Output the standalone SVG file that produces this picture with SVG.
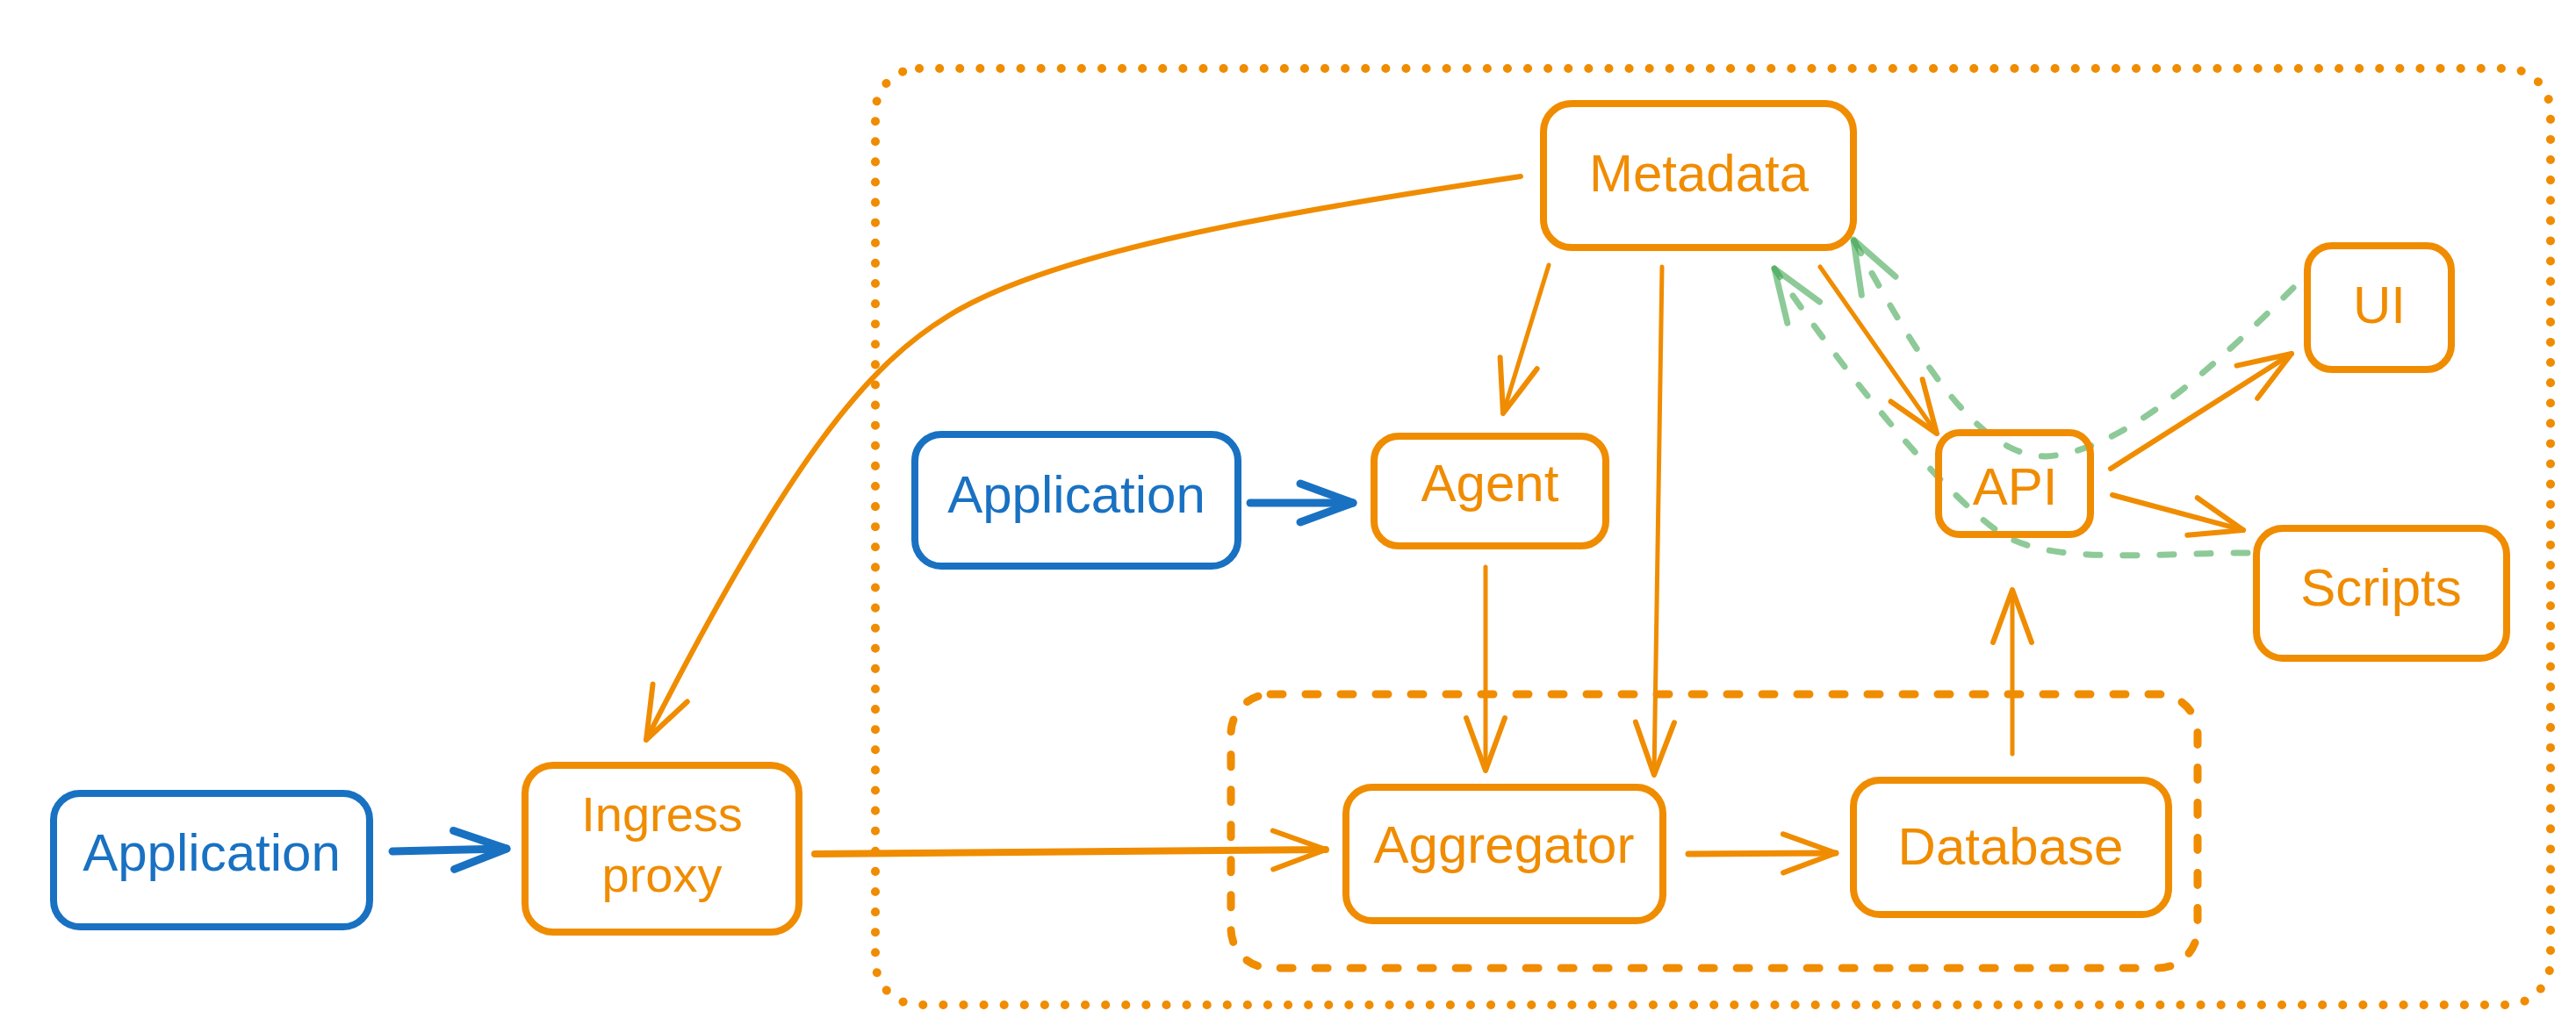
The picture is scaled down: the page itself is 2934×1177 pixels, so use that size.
<svg xmlns="http://www.w3.org/2000/svg" width="2934" height="1177" viewBox="0 0 2934 1177">
<style>
.bg{fill:#ffffff}
.box{fill:none;stroke-width:8;stroke-linejoin:round}
.o{stroke:#f08c00}
.b{stroke:#1971c2}
.t{font-family:"Liberation Sans",Arial,sans-serif;font-size:60px;text-anchor:middle}
.t2{font-size:56px}
.to{fill:#f08c00}
.tb{fill:#1971c2}
.ln{fill:none;stroke-linecap:round;stroke-linejoin:round}
.lo{stroke:#f08c00}
.lb{stroke:#1971c2;stroke-width:9}
.lg{stroke:#2f9e44;stroke-opacity:0.55;stroke-width:7;stroke-dasharray:16 26}
.dotted{fill:none;stroke:#f08c00;stroke-width:10;stroke-linecap:round;stroke-dasharray:0.1 23}
.dashed{fill:none;stroke:#f08c00;stroke-width:9;stroke-linecap:round;stroke-dasharray:14 26}
</style>
<defs>
<marker id="ao" markerUnits="userSpaceOnUse" viewBox="-70 -35 80 70" refX="0" refY="0" markerWidth="80" markerHeight="70" orient="auto" overflow="visible">
<path d="M-60,-22 L0,0 L-60,22" fill="none" stroke="#f08c00" stroke-width="6" stroke-linecap="round" stroke-linejoin="round"/>
</marker>
<marker id="ab" markerUnits="userSpaceOnUse" viewBox="-70 -35 80 70" refX="0" refY="0" markerWidth="80" markerHeight="70" orient="auto" overflow="visible">
<path d="M-60,-22 L0,0 L-60,22" fill="none" stroke="#1971c2" stroke-width="9" stroke-linecap="round" stroke-linejoin="round"/>
</marker>
<marker id="ag" markerUnits="userSpaceOnUse" viewBox="-70 -35 80 70" refX="0" refY="0" markerWidth="80" markerHeight="70" orient="auto" overflow="visible">
<path d="M-60,-22 L0,0 L-60,22" fill="none" stroke="#2f9e44" stroke-opacity="0.55" stroke-width="7" stroke-linecap="round" stroke-linejoin="round"/>
</marker>
</defs>
<rect class="bg" x="0" y="0" width="2934" height="1177"/>

<g id="boundary-outer">
<rect class="dotted" x="997" y="78" width="1908" height="1067" rx="50"/>
</g>
<g id="boundary-storage">
<rect class="dashed" x="1402" y="791" width="1101" height="312" rx="45"/>
</g>

<g id="connectors">
<path class="ln lo" stroke-width="6" d="M1732,201 C1450,243 1195,288 1080,360 C990,415 900,520 736,843" marker-end="url(#ao)"/>
<path class="ln lo" stroke-width="8" d="M928,973 L1510,968" marker-end="url(#ao)"/>
<path class="ln lb" d="M447,970 L577,967" marker-end="url(#ab)"/>
<path class="ln lb" d="M1424,573 L1541,573" marker-end="url(#ab)"/>
<path class="ln lo" stroke-width="5" d="M1764,302 L1712,471" marker-end="url(#ao)"/>
<path class="ln lo" stroke-width="5" d="M1893,304 L1884,883" marker-end="url(#ao)"/>
<path class="ln lo" stroke-width="5" d="M1692,646 L1692,878" marker-end="url(#ao)"/>
<path class="ln lo" stroke-width="7" d="M1923,973 L2091,972" marker-end="url(#ao)"/>
<path class="ln lo" stroke-width="5" d="M2292,859 L2292,672" marker-end="url(#ao)"/>
<path class="ln lo" stroke-width="5" d="M2073,304 L2206,494" marker-end="url(#ao)"/>
<path class="ln lo" stroke-width="6" d="M2404,534 L2610,403" marker-end="url(#ao)"/>
<path class="ln lo" stroke-width="6" d="M2406,564 L2555,604" marker-end="url(#ao)"/>
<path class="ln lg" d="M2560,630 C2450,630 2330,645 2275,605 C2200,550 2090,410 2021,306" marker-end="url(#ag)"/>
<path class="ln lg" d="M2612,328 C2530,410 2420,515 2330,520 C2250,520 2180,400 2111,273" marker-end="url(#ag)"/>
</g>

<g id="node-application-left">
<rect class="box b" x="61" y="904" width="360" height="152" rx="30"/>
<text class="t tb" x="241" y="992">Application</text>
</g>
<g id="node-ingress-proxy">
<rect class="box o" x="598" y="872" width="312" height="190" rx="32"/>
<text class="t t2 to" x="754" y="947">Ingress</text>
<text class="t t2 to" x="754" y="1016">proxy</text>
</g>
<g id="node-application-mid">
<rect class="box b" x="1042" y="495" width="368" height="150" rx="30"/>
<text class="t tb" x="1226" y="584">Application</text>
</g>
<g id="node-agent">
<rect class="box o" x="1565" y="497" width="264" height="125" rx="28"/>
<text class="t to" x="1697" y="571">Agent</text>
</g>
<g id="node-metadata">
<rect class="box o" x="1758" y="118" width="353" height="164" rx="32"/>
<text class="t to" x="1935" y="218">Metadata</text>
</g>
<g id="node-aggregator">
<rect class="box o" x="1533" y="897" width="361" height="152" rx="30"/>
<text class="t to" x="1713" y="983">Aggregator</text>
</g>
<g id="node-database">
<rect class="box o" x="2111" y="889" width="359" height="153" rx="30"/>
<text class="t to" x="2290" y="985">Database</text>
</g>
<g id="node-api">
<rect class="box o" x="2208" y="493" width="173" height="116" rx="24"/>
<text class="t to" x="2295" y="575">API</text>
</g>
<g id="node-ui">
<rect class="box o" x="2628" y="280" width="164" height="141" rx="28"/>
<text class="t to" x="2710" y="368">UI</text>
</g>
<g id="node-scripts">
<rect class="box o" x="2570" y="602" width="285" height="148" rx="30"/>
<text class="t to" x="2712" y="690">Scripts</text>
</g>
</svg>
